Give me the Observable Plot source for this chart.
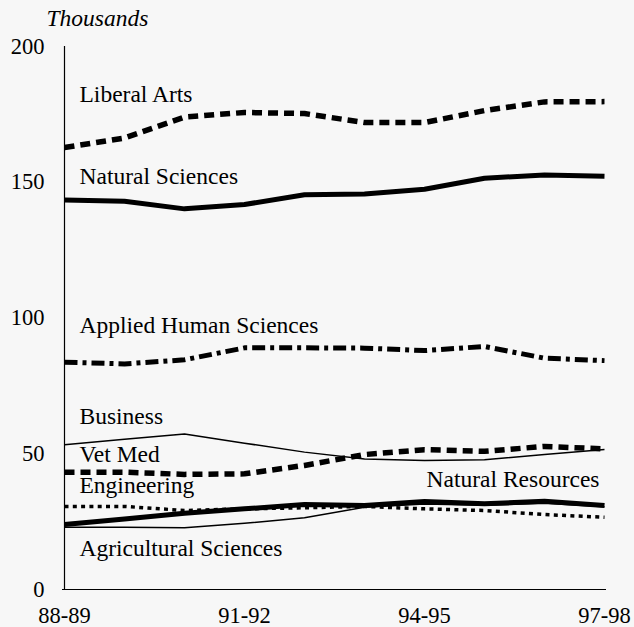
<!DOCTYPE html>
<html>
<head>
<meta charset="utf-8">
<script src="https://cdn.jsdelivr.net/npm/d3@7"></script>
<script src="https://cdn.jsdelivr.net/npm/@observablehq/plot@0.6"></script>
<style>
  html, body { margin: 0; padding: 0; background: #f7f7f7; }
  #chart svg { display: block; background: #f7f7f7; }
</style>
</head>
<body>
<div id="chart"></div>
<script>
// ---- data ----
const years = ["88-89","89-90","90-91","91-92","92-93","93-94","94-95","95-96","96-97","97-98"];
const xTicks = ["88-89","91-92","94-95","97-98"];
const yTicks = [0, 50, 100, 150, 200];

const liberalArts          = [162.8,166.3,174.0,175.7,175.3,172.0,172.0,176.4,179.6,179.7];
const naturalSciences      = [143.5,143.0,140.2,141.8,145.4,145.7,147.4,151.5,152.7,152.2];
const appliedHumanSciences = [83.7,83.1,84.6,89.0,89.0,88.9,88.0,89.5,85.2,84.3];
const business             = [53.3,55.3,57.3,53.9,50.6,48.1,47.5,47.8,49.7,51.6];
const vetMed               = [43.2,43.2,42.4,42.6,45.7,49.7,51.5,50.9,52.7,51.8];
const engineering          = [30.6,30.6,29.1,29.7,30.1,30.6,29.7,29.1,27.6,26.6];
const naturalResources     = [23.9,26.0,28.1,29.7,31.3,30.9,32.4,31.6,32.5,30.9];
const agriculturalSciences = [22.9,22.9,22.7,24.4,26.4,30.3,31.5,31.0,31.8,30.5];

// label names and their anchor values (in data units)
const leftLabels = ["Liberal Arts","Natural Sciences","Applied Human Sciences","Business","Vet Med","Engineering","Agricultural Sciences"];
const leftLabelValues = [179.4,149.2,94.3,60.8,46.8,35.4,12.5];
const rightLabels = ["Natural Resources"];
const rightLabelValues = [37.6];

// ---- styles (kept separate from the data) ----
const series = [
  {name: "Liberal Arts", values: liberalArts, sw: 5.5, dash: "10,6"},
  {name: "Natural Sciences", values: naturalSciences, sw: 5, dash: null},
  {name: "Applied Human Sciences", values: appliedHumanSciences, sw: 5, dash: "13,5,4,5"},
  {name: "Business", values: business, sw: 1.5, dash: null},
  {name: "Vet Med", values: vetMed, sw: 5.5, dash: "10,6"},
  {name: "Engineering", values: engineering, sw: 3.5, dash: "4,4.3"},
  {name: "Agricultural Sciences", values: agriculturalSciences, sw: 1.5, dash: null},
  {name: "Natural Resources", values: naturalResources, sw: 5, dash: null}
];

const font = "'Liberation Serif', 'Times New Roman', Times, serif";
const tickFont = 22.5;
const labelFont = 23.5;

const lineMarks = series.map(s =>
  Plot.line(years.map((yr, i) => ({year: yr, value: s.values[i]})), {
    x: "year", y: "value",
    stroke: "black",
    strokeWidth: s.sw,
    strokeDasharray: s.dash,
    strokeLinecap: "butt",
    strokeLinejoin: "round"
  })
);

const chart = Plot.plot({
  width: 634,
  height: 627,
  marginTop: 46,
  marginBottom: 38,
  marginLeft: 62,
  marginRight: 28,
  style: {fontFamily: font, fontSize: tickFont + "px", color: "black", background: "#f7f7f7"},
  x: {type: "point", domain: years, padding: 0},
  y: {domain: [0, 200]},
  marks: [
    Plot.axisY({ticks: yTicks, tickSize: 0, tickPadding: 18, label: null, fontSize: tickFont}),
    Plot.axisX({ticks: xTicks, tickSize: 0, tickPadding: 18, label: null, fontSize: tickFont}),
    Plot.ruleY([0], {stroke: "black", strokeWidth: 1.2}),
    Plot.ruleX([years[0]], {y1: 0, y2: 200, stroke: "black", strokeWidth: 1.2}),
    ...lineMarks,
    Plot.text(leftLabels, {
      x: () => years[0], y: (d, i) => leftLabelValues[i], text: d => d,
      textAnchor: "start", lineAnchor: "bottom", dx: 15, fontSize: labelFont, fill: "black"
    }),
    Plot.text(rightLabels, {
      x: () => years[years.length - 1], y: (d, i) => rightLabelValues[i], text: d => d,
      textAnchor: "end", lineAnchor: "bottom", dx: -5, fontSize: labelFont, fill: "black"
    }),
    Plot.text(["Thousands"], {
      frameAnchor: "top-left", text: d => d, textAnchor: "start", lineAnchor: "bottom",
      dx: -16, dy: -21, fontSize: labelFont, fontStyle: "italic", fill: "black"
    })
  ]
});

document.getElementById("chart").appendChild(chart);
</script>
</body>
</html>
